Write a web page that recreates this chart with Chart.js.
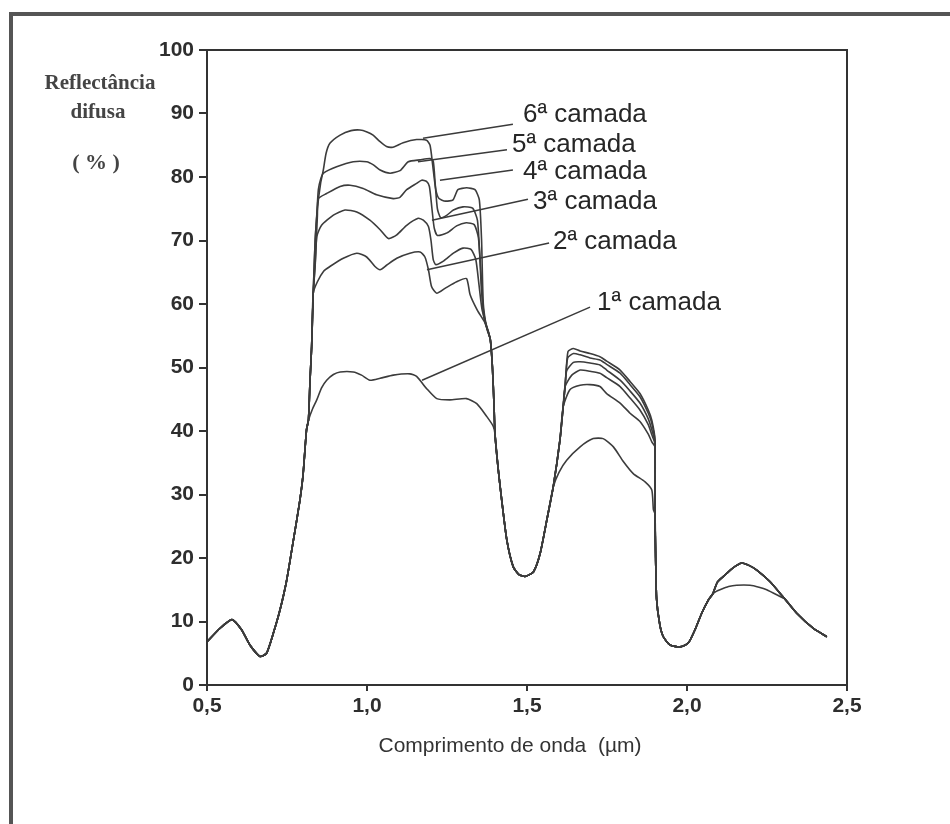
<!DOCTYPE html>
<html><head><meta charset="utf-8">
<script src="https://cdn.jsdelivr.net/npm/chart.js@4.4.0/dist/chart.umd.min.js"></script>
<style>html,body{margin:0;padding:0;background:#fff;}#wrap{width:950px;height:824px;position:relative;}</style>
</head><body><div id="wrap"><canvas id="c" width="950" height="824"></canvas></div>
<script>
// ---- axis ticks ----
const xTicks = [0.5, 1.0, 1.5, 2.0, 2.5];
const yTicks = [0, 10, 20, 30, 40, 50, 60, 70, 80, 90, 100];
const layerNames = ['1ª camada', '2ª camada', '3ª camada', '4ª camada', '5ª camada', '6ª camada'];

// ---- shared segments (wavelength µm, reflectance %) ----
const riseX = [0.50, 0.54, 0.578, 0.608, 0.634, 0.666, 0.686, 0.707, 0.728, 0.749, 0.77, 0.79, 0.80, 0.811, 0.817];
const riseY = [6.8, 8.9, 10.3, 8.7, 6.3, 4.5, 5.0, 8.1, 11.8, 16.5, 22.8, 29.0, 33.0, 40.2, 41.7];
const stemX = [0.822, 0.827, 0.832];
const stemY = [48.0, 53.3, 61.7];
const fallX = [1.385, 1.392, 1.397];
const fallY = [54.5, 50.0, 44.0];
const waterX = [1.400, 1.410, 1.421, 1.437, 1.457, 1.475, 1.494, 1.520, 1.541, 1.562, 1.582];
const waterY = [39.5, 34.0, 29.1, 22.8, 18.6, 17.4, 17.1, 17.8, 20.7, 26.0, 31.2];
const stem2X = [1.603, 1.613];
const stem2Y = [38.6, 43.8];
const dropX = [1.900, 1.902, 1.905, 1.915, 1.926, 1.947, 1.978, 2.004, 2.025, 2.046, 2.067, 2.080];
const dropY = [27.0, 20.0, 13.5, 9.5, 7.6, 6.3, 6.0, 6.6, 8.7, 11.3, 13.4, 14.3];
const hiX = [2.095, 2.114, 2.140, 2.171, 2.195, 2.218, 2.259, 2.300];
const hiY = [16.2, 17.1, 18.3, 19.2, 18.8, 18.1, 16.3, 13.9];
const loX = [2.090, 2.103, 2.130, 2.155, 2.197, 2.225, 2.249, 2.300];
const loY = [14.7, 15.0, 15.5, 15.7, 15.7, 15.4, 15.0, 13.7];
const endX = [2.305, 2.343, 2.395, 2.437];
const endY = [13.6, 11.3, 8.9, 7.6];

// ---- per-layer segments ----
const c1PeakX = [0.830, 0.843, 0.858, 0.874, 0.895, 0.916, 0.957, 0.983, 1.009, 1.041, 1.082, 1.134, 1.155, 1.186, 1.218, 1.259, 1.311, 1.343, 1.374, 1.395];
const c1PeakY = [43.5, 44.9, 46.8, 48.0, 48.9, 49.3, 49.3, 48.8, 48.0, 48.3, 48.8, 49.0, 48.6, 46.7, 45.1, 44.9, 45.1, 44.3, 42.3, 40.7];
const c2PeakX = [0.845, 0.865, 0.884, 0.926, 0.968, 0.999, 1.025, 1.041, 1.061, 1.093, 1.134, 1.166, 1.181, 1.192, 1.202, 1.218, 1.245, 1.280, 1.311, 1.322, 1.345, 1.369];
const c2PeakY = [63.5, 65.2, 65.9, 67.2, 68.0, 67.4, 65.9, 65.4, 66.1, 67.2, 68.0, 68.2, 67.4, 65.4, 62.7, 61.7, 62.5, 63.5, 64.0, 61.5, 59.0, 57.0];
const c3PeakX = [0.838, 0.843, 0.858, 0.895, 0.931, 0.968, 1.009, 1.041, 1.067, 1.093, 1.124, 1.160, 1.176, 1.192, 1.200, 1.207, 1.215, 1.240, 1.270, 1.300, 1.325, 1.340, 1.350, 1.360];
const c3PeakY = [66.0, 70.6, 72.4, 74.0, 74.8, 74.5, 73.2, 71.7, 70.3, 70.9, 72.4, 73.5, 73.2, 72.2, 70.0, 67.0, 66.2, 66.8, 68.0, 68.8, 68.6, 67.0, 63.0, 59.0];
const c4PeakX = [0.840, 0.845, 0.848, 0.874, 0.916, 0.947, 0.988, 1.030, 1.082, 1.103, 1.124, 1.155, 1.171, 1.186, 1.195, 1.203, 1.210, 1.220, 1.250, 1.280, 1.310, 1.335, 1.348, 1.356, 1.365];
const c4PeakY = [68.0, 74.0, 76.6, 77.4, 78.5, 78.7, 78.2, 77.2, 76.6, 76.8, 78.0, 79.0, 79.5, 79.3, 78.5, 75.0, 72.0, 70.8, 71.2, 72.3, 72.8, 72.5, 70.5, 65.0, 58.0];
const c5PeakX = [0.838, 0.843, 0.848, 0.856, 0.864, 0.905, 0.957, 0.999, 1.020, 1.041, 1.072, 1.103, 1.129, 1.166, 1.197, 1.207, 1.213, 1.220, 1.230, 1.250, 1.270, 1.300, 1.330, 1.345, 1.352, 1.358, 1.370];
const c5PeakY = [70.0, 74.0, 78.0, 79.8, 80.6, 81.6, 82.4, 82.4, 81.9, 81.1, 80.6, 81.0, 82.4, 82.7, 82.9, 82.5, 79.0, 75.0, 73.6, 74.0, 74.8, 75.3, 75.1, 73.2, 68.0, 62.0, 57.0];
const c6PeakX = [0.838, 0.845, 0.855, 0.8635, 0.872, 0.884, 0.916, 0.950, 0.978, 1.000, 1.019, 1.040, 1.061, 1.081, 1.113, 1.155, 1.186, 1.197, 1.205, 1.215, 1.225, 1.245, 1.269, 1.284, 1.3115, 1.3375, 1.351, 1.358, 1.3635, 1.375];
const c6PeakY = [70.0, 75.0, 79.0, 81.1, 83.7, 85.3, 86.6, 87.3, 87.4, 87.1, 86.6, 85.6, 84.8, 84.7, 85.4, 85.9, 85.8, 85.0, 82.0, 78.0, 76.6, 76.2, 76.4, 78.0, 78.3, 78.0, 76.4, 70.1, 60.0, 56.0];

const c1BandX = [1.600, 1.624, 1.666, 1.707, 1.738, 1.770, 1.801, 1.832, 1.869, 1.890, 1.895];
const c1BandY = [33.5, 35.4, 37.5, 38.8, 38.8, 37.5, 35.2, 33.3, 32.0, 30.7, 27.6];
const c2BandX = [1.634, 1.666, 1.697, 1.728, 1.749, 1.791, 1.822, 1.853, 1.879, 1.890, 1.900];
const c2BandY = [46.5, 47.2, 47.3, 47.0, 45.9, 44.4, 42.8, 41.5, 39.5, 38.3, 37.5];
const c3BandX = [1.619, 1.640, 1.666, 1.697, 1.728, 1.749, 1.791, 1.822, 1.853, 1.879, 1.890, 1.900];
const c3BandY = [47.0, 48.8, 49.6, 49.4, 49.1, 48.4, 47.0, 45.2, 43.3, 41.0, 39.4, 38.0];
const c4BandX = [1.619, 1.624, 1.645, 1.666, 1.697, 1.728, 1.749, 1.791, 1.822, 1.853, 1.879, 1.890, 1.900];
const c4BandY = [47.0, 49.5, 50.8, 50.9, 50.7, 50.4, 49.6, 48.0, 46.3, 44.4, 41.9, 40.2, 38.2];
const c5BandX = [1.619, 1.627, 1.645, 1.666, 1.697, 1.728, 1.749, 1.791, 1.822, 1.853, 1.879, 1.890, 1.900];
const c5BandY = [47.0, 51.5, 52.2, 52.0, 51.5, 51.2, 50.5, 49.1, 47.3, 45.4, 42.8, 41.2, 38.4];
const c6BandX = [1.619, 1.628, 1.645, 1.666, 1.697, 1.728, 1.749, 1.791, 1.822, 1.853, 1.879, 1.890, 1.900];
const c6BandY = [47.0, 52.5, 53.0, 52.6, 52.2, 51.7, 51.0, 49.6, 47.8, 45.9, 43.3, 41.7, 38.6];

// ---- annotation anchors (data units) ----
const labelPos = [[1.719, 60.2], [1.581, 69.8], [1.519, 76.1], [1.4875, 80.8], [1.453, 85.0], [1.4875, 89.8]];
const leaderFrom = [[1.697, 59.5], [1.569, 69.6], [1.503, 76.5], [1.456, 81.1], [1.4375, 84.3], [1.456, 88.3]];
const leaderTo = [[1.172, 48.0], [1.1875, 65.4], [1.203, 73.2], [1.228, 79.5], [1.159, 82.4], [1.175, 86.1]];
const yTitleLines = ['Reflectância', 'difusa', '( % )'];
const xTitle = 'Comprimento de onda  (µm)';

function seg(xs, ys) { return xs.map((x, i) => ({x: x, y: ys[i]})); }
function build(parts) { let out = []; parts.forEach(p => { out = out.concat(seg(p[0], p[1])); }); return out; }

const layers = [
  build([[riseX, riseY], [c1PeakX, c1PeakY], [waterX, waterY], [c1BandX, c1BandY], [dropX, dropY], [loX, loY], [endX, endY]]),
  build([[riseX, riseY], [stemX, stemY], [c2PeakX, c2PeakY], [fallX, fallY], [waterX, waterY], [stem2X, stem2Y], [c2BandX, c2BandY], [dropX, dropY], [hiX, hiY], [endX, endY]]),
  build([[riseX, riseY], [stemX, stemY], [c3PeakX, c3PeakY], [fallX, fallY], [waterX, waterY], [stem2X, stem2Y], [c3BandX, c3BandY], [dropX, dropY], [hiX, hiY], [endX, endY]]),
  build([[riseX, riseY], [stemX, stemY], [c4PeakX, c4PeakY], [fallX, fallY], [waterX, waterY], [stem2X, stem2Y], [c4BandX, c4BandY], [dropX, dropY], [hiX, hiY], [endX, endY]]),
  build([[riseX, riseY], [stemX, stemY], [c5PeakX, c5PeakY], [fallX, fallY], [waterX, waterY], [stem2X, stem2Y], [c5BandX, c5BandY], [dropX, dropY], [hiX, hiY], [endX, endY]]),
  build([[riseX, riseY], [stemX, stemY], [c6PeakX, c6PeakY], [fallX, fallY], [waterX, waterY], [stem2X, stem2Y], [c6BandX, c6BandY], [dropX, dropY], [hiX, hiY], [endX, endY]])
];

const INK = '#333333';

const decor = {
  id: 'decor',
  beforeDraw(chart) {
    const ctx = chart.ctx;
    ctx.save();
    ctx.fillStyle = '#fff';
    ctx.fillRect(0, 0, chart.width, chart.height);
    ctx.fillStyle = '#555';
    ctx.fillRect(9, 12, chart.width - 9, 4);
    ctx.fillRect(9, 12, 4, chart.height - 12);
    ctx.restore();
  },
  afterDraw(chart) {
    const ctx = chart.ctx, a = chart.chartArea;
    const xs = chart.scales.x, ys = chart.scales.y;
    ctx.save();
    ctx.strokeStyle = INK; ctx.lineWidth = 2;
    ctx.strokeRect(a.left, a.top, a.right - a.left, a.bottom - a.top);
    // leader lines
    ctx.lineWidth = 1.5; ctx.strokeStyle = '#3a3a3a';
    for (let i = 0; i < leaderFrom.length; i++) {
      ctx.beginPath();
      ctx.moveTo(xs.getPixelForValue(leaderFrom[i][0]), ys.getPixelForValue(leaderFrom[i][1]));
      ctx.lineTo(xs.getPixelForValue(leaderTo[i][0]), ys.getPixelForValue(leaderTo[i][1]));
      ctx.stroke();
    }
    // labels
    ctx.fillStyle = '#262626';
    ctx.font = '26px "Liberation Sans", Arial, sans-serif';
    ctx.textAlign = 'left'; ctx.textBaseline = 'middle';
    for (let i = 0; i < layerNames.length; i++) {
      ctx.fillText(layerNames[i], xs.getPixelForValue(labelPos[i][0]), ys.getPixelForValue(labelPos[i][1]));
    }
    // y title
    ctx.font = 'bold 21px "Liberation Serif", "Times New Roman", serif';
    ctx.textAlign = 'center';
    ctx.fillStyle = '#444';
    ctx.fillText(yTitleLines[0], 100, 84);
    ctx.fillText(yTitleLines[1], 98, 113);
    ctx.font = 'bold 22px "Liberation Serif", "Times New Roman", serif';
    ctx.fillText(yTitleLines[2], 96, 163);
    // x title
    ctx.font = '21px "Liberation Sans", Arial, sans-serif';
    ctx.fillStyle = '#333';
    ctx.fillText(xTitle, 510, 746);
    ctx.restore();
  }
};

new Chart(document.getElementById('c'), {
  type: 'scatter',
  data: {
    datasets: layers.map((d, i) => ({
      label: layerNames[i], data: d, showLine: true, fill: false,
      borderColor: '#3c3c3c', borderWidth: 1.6, pointRadius: 0, tension: 0.2
    }))
  },
  options: {
    responsive: false, animation: false,
    layout: {padding: {left: 0, top: 50, right: 103, bottom: 0}},
    plugins: {legend: {display: false}, tooltip: {enabled: false}},
    scales: {
      x: {
        type: 'linear', min: 0.5, max: 2.5,
        afterBuildTicks(s) { s.ticks = xTicks.map(v => ({value: v})); },
        afterFit(s) { s.height = 139; },
        grid: {drawOnChartArea: false, drawTicks: true, tickLength: 6, color: INK, lineWidth: 2},
        border: {display: true, color: INK, width: 2},
        ticks: {
          padding: 3, color: '#2e2e2e', font: {family: '"Liberation Sans", Arial, sans-serif', size: 21, weight: 'bold'},
          callback: v => v.toFixed(1).replace('.', ',')
        }
      },
      y: {
        type: 'linear', min: 0, max: 100,
        afterBuildTicks(s) { s.ticks = yTicks.map(v => ({value: v})); },
        afterFit(s) { s.width = 207; },
        grid: {drawOnChartArea: false, drawTicks: true, tickLength: 8, color: INK, lineWidth: 2},
        border: {display: true, color: INK, width: 2},
        ticks: {
          padding: 5, color: '#2e2e2e', font: {family: '"Liberation Sans", Arial, sans-serif', size: 21, weight: 'bold'},
          callback: v => String(v)
        }
      }
    }
  },
  plugins: [decor]
});
</script></body></html>
